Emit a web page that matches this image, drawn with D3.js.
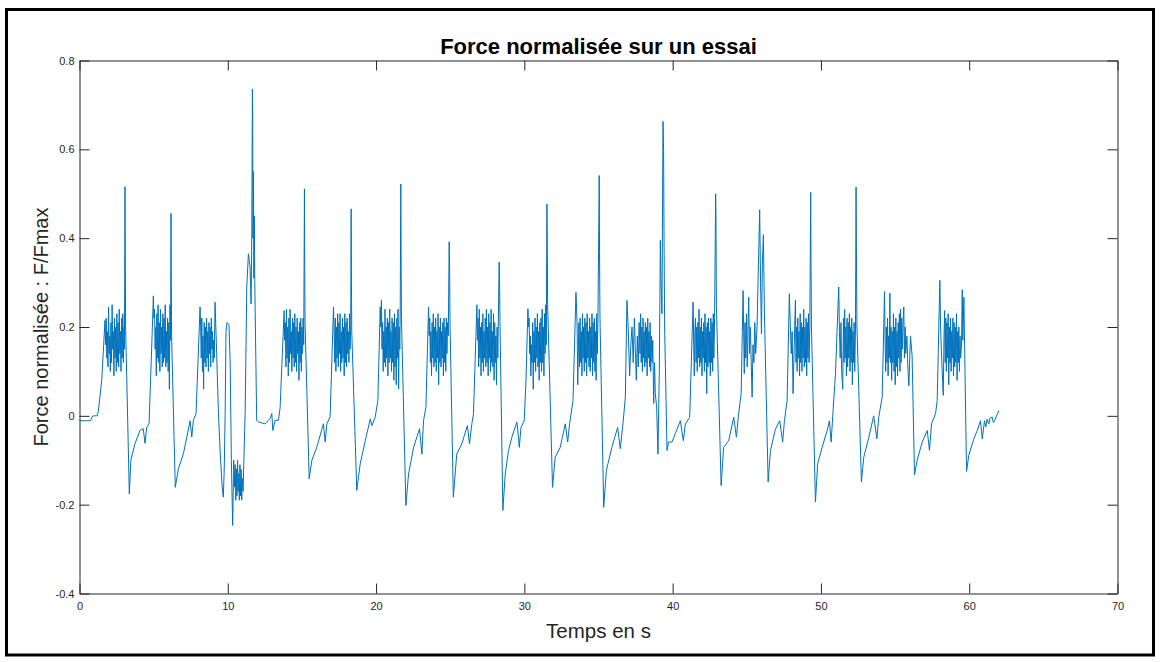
<!DOCTYPE html>
<html><head><meta charset="utf-8">
<script src="https://cdn.jsdelivr.net/npm/d3@7"></script>
<style>html,body{margin:0;padding:0;background:#fff;} svg{display:block;font-family:"Liberation Sans",Arial,Helvetica,sans-serif;}</style>
</head><body><svg id="chart" width="1160" height="662"></svg>
<script>
const title = "Force normalisée sur un essai";
const xLabel = "Temps en s";
const yLabel = "Force normalisée : F/Fmax";
const xDomain = [0, 70];
const yDomain = [-0.4, 0.8];
const xTicks = [0, 10, 20, 30, 40, 50, 60, 70];
const xTickLabels = ["0", "10", "20", "30", "40", "50", "60", "70"];
const yTicks = [-0.4, -0.2, 0, 0.2, 0.4, 0.6, 0.8];
const yTickLabels = ["-0.4", "-0.2", "0", "0.2", "0.4", "0.6", "0.8"];

// [time (s), F/Fmax]
const lead = [[0,-0.011],[0.75,-0.011],[0.85,-0.002],[0.95,0.0],[1.2,0.0],[1.27,0.01],[1.5,0.08],[1.72,0.215]];
const cycle01 = [[1.76,0.16],[1.80,0.22],[1.84,0.13],[1.88,0.19],[1.92,0.11],[1.96,0.245],[2.00,0.14],[2.04,0.18],[2.08,0.10],[2.12,0.21],[2.16,0.12],[2.20,0.25],[2.24,0.15],[2.28,0.19],[2.32,0.09],[2.36,0.22],[2.40,0.13],[2.44,0.20],[2.48,0.10],[2.52,0.23],[2.56,0.12],[2.60,0.21],[2.64,0.11],[2.68,0.24],[2.72,0.14],[2.76,0.19],[2.80,0.10],[2.84,0.22],[2.88,0.13],[2.92,0.23],[2.96,0.12],[3.00,0.20],[3.03,0.15],
 [3.07,0.516],[3.09,0.34],[3.11,0.20],[3.36,-0.176],
 [3.46,-0.10],[3.75,-0.062],[4.08,-0.033],[4.30,-0.029],[4.42,-0.062],[4.53,-0.026],[4.69,-0.018],[4.87,0.155],[4.98,0.27]];
const cycle02 = [[5.02,0.22],[5.06,0.24],[5.10,0.15],[5.14,0.20],[5.18,0.09],[5.22,0.23],[5.26,0.13],[5.30,0.25],[5.34,0.12],[5.38,0.21],[5.42,0.10],[5.46,0.24],[5.50,0.14],[5.54,0.20],[5.58,0.11],[5.62,0.23],[5.66,0.12],[5.70,0.22],[5.74,0.13],[5.78,0.25],[5.82,0.11],[5.86,0.19],[5.90,0.12],[5.94,0.22],[5.98,0.10],[6.02,0.21],[6.06,0.06],[6.10,0.25],[6.14,0.17],
 [6.17,0.456],[6.19,0.30],[6.21,0.18],[6.46,-0.161],
 [6.67,-0.119],[7.01,-0.085],[7.46,-0.011],[7.57,-0.048],[7.68,-0.01],[7.86,0.005],[8.13,0.245]];
const cycle03 = [[8.17,0.20],[8.21,0.13],[8.25,0.22],[8.29,0.10],[8.33,0.18],[8.37,0.06],[8.41,0.21],[8.45,0.12],[8.49,0.20],[8.53,0.11],[8.57,0.22],[8.61,0.13],[8.65,0.19],[8.69,0.10],[8.73,0.21],[8.77,0.14],[8.81,0.20],[8.85,0.11],[8.89,0.22],[8.93,0.15],[8.97,0.19],[9.01,0.12],[9.05,0.17],[9.09,0.13],[9.14,0.256],[9.25,0.14],[9.37,0.005],
 [9.50,-0.09],[9.62,-0.16],[9.70,-0.183],[9.76,-0.12],[9.82,0.0],[9.88,0.19],[9.95,0.21],[10.08,0.205],[10.16,0.12],[10.24,-0.10],[10.33,-0.247],[10.40,-0.10],
 [10.46,-0.16],[10.50,-0.11],[10.54,-0.19],[10.58,-0.12],[10.62,-0.18],[10.66,-0.10],[10.70,-0.17],[10.74,-0.13],[10.78,-0.19],[10.82,-0.11],[10.86,-0.18],[10.90,-0.12],[10.94,-0.19],[10.98,-0.14],[11.03,-0.17],
 [11.17,0.005],[11.28,0.29],[11.39,0.365],[11.50,0.335],[11.57,0.252],[11.62,0.41],[11.66,0.736],[11.68,0.68],[11.70,0.40],[11.73,0.55],[11.76,0.31],[11.79,0.45],[11.82,0.30],[11.95,-0.01],
 [12.07,-0.014],[12.52,-0.018],[12.85,-0.006],[12.97,0.005],[13.04,-0.033],[13.19,-0.01],[13.42,-0.01],[13.53,0.019],[13.80,0.237]];
const cycle04 = [[13.84,0.17],[13.88,0.21],[13.92,0.11],[13.96,0.24],[14.00,0.13],[14.04,0.20],[14.08,0.09],[14.12,0.22],[14.16,0.12],[14.20,0.24],[14.24,0.14],[14.28,0.19],[14.32,0.10],[14.36,0.22],[14.40,0.13],[14.44,0.21],[14.48,0.11],[14.52,0.23],[14.56,0.12],[14.60,0.20],[14.64,0.10],[14.68,0.22],[14.72,0.14],[14.76,0.19],[14.80,0.08],[14.84,0.21],[14.88,0.12],[14.92,0.22],[14.96,0.10],[15.00,0.20],[15.04,0.14],[15.08,0.22],[15.12,0.16],
 [15.17,0.511],[15.19,0.33],[15.21,0.21],[15.49,-0.142],
 [15.67,-0.10],[16.00,-0.071],[16.45,-0.018],[16.57,-0.059],[16.68,-0.018],[16.90,-0.003],[17.13,0.245]];
const cycle05 = [[17.17,0.19],[17.21,0.12],[17.25,0.22],[17.29,0.10],[17.33,0.20],[17.37,0.13],[17.41,0.23],[17.45,0.11],[17.49,0.21],[17.53,0.14],[17.57,0.23],[17.61,0.10],[17.65,0.19],[17.69,0.12],[17.73,0.22],[17.77,0.13],[17.81,0.20],[17.85,0.09],[17.89,0.23],[17.93,0.12],[17.97,0.21],[18.01,0.11],[18.05,0.22],[18.09,0.14],[18.13,0.19],[18.17,0.12],[18.21,0.23],[18.25,0.15],[18.29,0.20],
 [18.32,0.466],[18.34,0.30],[18.36,0.19],[18.70,-0.168],
 [18.93,-0.108],[19.27,-0.056],[19.61,-0.007],[19.72,-0.022],[19.94,-0.003],[20.12,0.034],[20.28,0.245]];
const cycle06 = [[20.32,0.20],[20.36,0.26],[20.40,0.15],[20.44,0.21],[20.48,0.10],[20.52,0.19],[20.56,0.12],[20.60,0.24],[20.64,0.11],[20.68,0.20],[20.72,0.13],[20.76,0.22],[20.80,0.09],[20.84,0.21],[20.88,0.12],[20.92,0.24],[20.96,0.13],[21.00,0.19],[21.04,0.10],[21.08,0.22],[21.12,0.12],[21.16,0.21],[21.20,0.08],[21.24,0.23],[21.28,0.11],[21.32,0.20],[21.36,0.07],[21.40,0.22],[21.44,0.13],[21.48,0.24],[21.52,0.06],[21.56,0.20],[21.60,0.15],[21.63,0.25],
 [21.67,0.522],[21.69,0.35],[21.71,0.22],[22.01,-0.202],
 [22.19,-0.131],[22.53,-0.071],[22.93,-0.029],[23.09,-0.086],[23.20,-0.011],[23.36,0.019],[23.54,0.245]];
const cycle07 = [[23.58,0.18],[23.62,0.22],[23.66,0.12],[23.70,0.19],[23.74,0.09],[23.78,0.21],[23.82,0.13],[23.86,0.23],[23.90,0.11],[23.94,0.20],[23.98,0.12],[24.02,0.22],[24.06,0.10],[24.10,0.19],[24.14,0.13],[24.18,0.23],[24.22,0.07],[24.26,0.20],[24.30,0.12],[24.34,0.22],[24.38,0.11],[24.42,0.19],[24.46,0.13],[24.50,0.21],[24.54,0.09],[24.58,0.22],[24.62,0.12],[24.66,0.20],[24.70,0.10],[24.74,0.22],[24.78,0.14],[24.82,0.21],[24.87,0.18],
 [24.93,0.392],[24.96,0.33],[24.99,0.20],[25.21,-0.183],
 [25.44,-0.086],[25.78,-0.063],[26.16,-0.022],[26.30,-0.063],[26.46,-0.018],[26.57,0.005],[26.80,0.25]];
const cycle08 = [[26.84,0.17],[26.88,0.22],[26.92,0.11],[26.96,0.24],[27.00,0.13],[27.04,0.20],[27.08,0.09],[27.12,0.21],[27.16,0.12],[27.20,0.23],[27.24,0.10],[27.28,0.19],[27.32,0.13],[27.36,0.22],[27.40,0.11],[27.44,0.24],[27.48,0.12],[27.52,0.20],[27.56,0.09],[27.60,0.23],[27.64,0.13],[27.68,0.21],[27.72,0.10],[27.76,0.24],[27.80,0.12],[27.84,0.19],[27.88,0.11],[27.92,0.23],[27.96,0.08],[28.00,0.21],[28.04,0.12],[28.08,0.18],[28.12,0.07],[28.16,0.20],[28.21,0.13],
 [28.30,0.346],[28.33,0.30],[28.36,0.20],[28.55,-0.213],
 [28.71,-0.131],[28.93,-0.078],[29.16,-0.048],[29.50,-0.014],[29.66,-0.071],[29.77,-0.026],[29.99,-0.011],[30.11,0.08],[30.24,0.241]];
const cycle09 = [[30.28,0.20],[30.32,0.22],[30.36,0.14],[30.40,0.18],[30.44,0.09],[30.48,0.16],[30.52,0.12],[30.56,0.21],[30.60,0.06],[30.64,0.19],[30.68,0.12],[30.72,0.22],[30.76,0.10],[30.80,0.20],[30.84,0.13],[30.88,0.23],[30.92,0.11],[30.96,0.19],[31.00,0.08],[31.04,0.21],[31.08,0.12],[31.12,0.22],[31.16,0.10],[31.20,0.24],[31.24,0.12],[31.28,0.20],[31.32,0.09],[31.36,0.23],[31.40,0.14],[31.44,0.25],[31.48,0.16],
 [31.52,0.477],[31.54,0.417],[31.57,0.25],[31.90,-0.161],
 [32.08,-0.093],[32.42,-0.071],[32.76,-0.018],[32.92,-0.059],[33.05,-0.018],[33.28,0.034],[33.48,0.278]];
const cycle10 = [[33.52,0.24],[33.56,0.20],[33.60,0.07],[33.64,0.15],[33.68,0.21],[33.72,0.11],[33.76,0.22],[33.80,0.12],[33.84,0.19],[33.88,0.09],[33.92,0.23],[33.96,0.13],[34.00,0.20],[34.04,0.10],[34.08,0.22],[34.12,0.12],[34.16,0.21],[34.20,0.09],[34.24,0.23],[34.28,0.13],[34.32,0.19],[34.36,0.11],[34.40,0.22],[34.44,0.10],[34.48,0.20],[34.52,0.13],[34.56,0.23],[34.60,0.09],[34.64,0.21],[34.68,0.12],[34.72,0.22],[34.76,0.10],[34.80,0.19],[34.84,0.08],[34.88,0.23],[34.92,0.14],[34.96,0.21],
 [35.05,0.541],[35.07,0.368],[35.10,0.22],[35.35,-0.206],
 [35.53,-0.123],[35.90,-0.071],[36.29,-0.026],[36.47,-0.074],[36.65,-0.018],[36.81,0.042],[36.92,0.26]];
const cycle11 = [[37.00,0.20],[37.10,0.09],[37.18,0.16],[37.26,0.20],[37.34,0.12],[37.42,0.22],[37.50,0.13],[37.55,0.08],[37.62,0.18],[37.68,0.11],[37.74,0.21],[37.80,0.14],[37.84,0.23],[37.88,0.12],[37.92,0.20],[37.96,0.10],[38.00,0.22],[38.04,0.13],[38.08,0.19],[38.12,0.11],[38.16,0.21],[38.20,0.12],[38.24,0.20],[38.28,0.09],[38.32,0.22],[38.36,0.13],[38.40,0.19],[38.44,0.11],[38.48,0.21],[38.52,0.10],[38.56,0.18],[38.61,0.12],[38.66,0.17],[38.72,0.028],[38.78,0.12],[38.83,0.05],[38.92,0.02],[39.01,-0.086],[39.10,0.10],[39.17,0.395],[39.22,0.30],[39.28,0.23],
 [39.35,0.663],[39.39,0.597],[39.42,0.40],[39.46,0.20],[39.62,-0.078],
 [39.73,-0.059],[39.96,-0.059],[40.18,-0.04],[40.52,-0.011],[40.72,-0.056],[40.86,-0.018],[41.15,-0.003],[41.38,0.256]];
const cycle12 = [[41.42,0.16],[41.46,0.09],[41.50,0.19],[41.54,0.22],[41.58,0.12],[41.62,0.20],[41.66,0.10],[41.70,0.21],[41.74,0.13],[41.78,0.24],[41.82,0.11],[41.86,0.20],[41.90,0.12],[41.94,0.22],[41.98,0.09],[42.02,0.19],[42.06,0.13],[42.10,0.21],[42.14,0.10],[42.18,0.23],[42.22,0.12],[42.26,0.20],[42.30,0.05],[42.34,0.21],[42.38,0.11],[42.42,0.22],[42.46,0.12],[42.50,0.19],[42.54,0.09],[42.58,0.22],[42.62,0.12],[42.66,0.21],[42.70,0.10],[42.74,0.23],[42.78,0.13],[42.83,0.22],
 [42.90,0.50],[42.92,0.447],[42.95,0.25],[43.27,-0.157],
 [43.44,-0.071],[43.78,-0.056],[44.12,-0.003],[44.30,-0.048],[44.45,0.005],[44.62,0.05],[44.75,0.282]];
const cycle13 = [[44.79,0.19],[44.83,0.095],[44.88,0.21],[44.93,0.13],[44.98,0.23],[45.03,0.11],[45.08,0.19],[45.13,0.267],[45.18,0.14],[45.24,0.20],[45.30,0.12],[45.36,0.042],[45.42,0.16],[45.48,0.12],[45.54,0.21],[45.60,0.14],[45.69,0.20],
 [45.87,0.464],[45.93,0.30],[45.99,0.185],[46.05,0.34],[46.12,0.408],[46.19,0.23],[46.44,-0.149],
 [46.60,-0.078],[46.93,-0.03],[47.22,-0.011],[47.42,-0.059],[47.54,-0.011],[47.72,0.034],[47.87,0.275]];
const cycle14 = [[47.94,0.20],[48.00,0.14],[48.06,0.19],[48.12,0.05],[48.20,0.16],[48.28,0.26],[48.32,0.12],[48.36,0.20],[48.40,0.10],[48.44,0.22],[48.48,0.13],[48.52,0.19],[48.56,0.09],[48.60,0.23],[48.64,0.12],[48.68,0.21],[48.72,0.10],[48.76,0.20],[48.80,0.13],[48.84,0.24],[48.88,0.11],[48.92,0.20],[48.96,0.12],[49.00,0.22],[49.04,0.09],[49.08,0.21],[49.12,0.13],[49.16,0.23],[49.20,0.12],[49.25,0.20],
 [49.31,0.503],[49.33,0.346],[49.36,0.20],[49.63,-0.194],
 [49.78,-0.108],[50.08,-0.071],[50.42,-0.033],[50.57,-0.011],[50.69,-0.059],[50.82,0.012],[50.98,0.095],[51.20,0.29]];
const cycle15 = [[51.25,0.19],[51.30,0.13],[51.35,0.21],[51.40,0.10],[51.47,0.06],[51.52,0.22],[51.56,0.12],[51.60,0.24],[51.64,0.13],[51.68,0.20],[51.72,0.09],[51.76,0.22],[51.80,0.11],[51.84,0.21],[51.88,0.13],[51.92,0.23],[51.96,0.10],[52.00,0.20],[52.04,0.12],[52.08,0.22],[52.12,0.07],[52.16,0.19],[52.20,0.12],[52.24,0.21],[52.28,0.10],[52.33,0.20],
 [52.37,0.515],[52.40,0.335],[52.43,0.20],[52.73,-0.149],
 [52.89,-0.093],[53.23,-0.048],[53.56,0.0],[53.77,-0.052],[53.90,-0.003],[54.13,0.042],[54.29,0.28]];
const cycle16 = [[54.33,0.16],[54.37,0.10],[54.41,0.20],[54.45,0.12],[54.49,0.22],[54.53,0.09],[54.57,0.18],[54.61,0.13],[54.65,0.276],[54.69,0.12],[54.73,0.20],[54.77,0.08],[54.81,0.19],[54.85,0.12],[54.89,0.23],[54.93,0.10],[54.97,0.20],[55.01,0.07],[55.05,0.22],[55.09,0.11],[55.13,0.19],[55.17,0.09],[55.21,0.21],[55.25,0.13],[55.29,0.23],[55.33,0.10],[55.37,0.24],[55.41,0.12],[55.45,0.22],[55.49,0.15],[55.54,0.21],[55.59,0.245],[55.63,0.13],[55.68,0.20],[55.72,0.14],[55.80,0.18],[55.86,0.11],[55.93,0.068],[56.04,0.18],[56.15,0.135],[56.31,-0.133],
 [56.49,-0.10],[56.83,-0.059],[57.17,-0.033],[57.32,-0.078],[57.46,-0.018],[57.73,0.005],[57.84,0.034],[58.02,0.305]];
const cycle17 = [[58.07,0.20],[58.12,0.15],[58.18,0.10],[58.25,0.046],[58.30,0.18],[58.34,0.237],[58.38,0.12],[58.42,0.22],[58.46,0.10],[58.50,0.21],[58.54,0.13],[58.58,0.23],[58.62,0.07],[58.66,0.20],[58.70,0.12],[58.74,0.22],[58.78,0.10],[58.82,0.19],[58.86,0.13],[58.90,0.22],[58.94,0.09],[58.98,0.21],[59.02,0.11],[59.06,0.20],[59.10,0.12],[59.14,0.23],[59.18,0.08],[59.22,0.19],[59.26,0.12],[59.30,0.20],[59.34,0.10],[59.38,0.18],[59.42,0.13],[59.48,0.16],[59.53,0.284],[59.57,0.17],[59.64,0.267],[59.82,-0.125],
 [59.97,-0.089],[60.31,-0.052],[60.54,-0.033],[60.76,-0.011],[60.88,-0.052],[61.03,-0.011],[61.12,-0.025],[61.20,-0.008],[61.32,-0.018],[61.40,-0.005],[61.55,-0.003],[61.63,-0.015],[61.71,-0.011],[61.85,0.0],[62.0,0.012]];

const signal = [].concat(lead, cycle01, cycle02, cycle03, cycle04, cycle05, cycle06, cycle07, cycle08, cycle09,
  cycle10, cycle11, cycle12, cycle13, cycle14, cycle15, cycle16, cycle17);

const svg = d3.select("#chart");
const W = 1160, H = 662;
const plot = {left: 79.5, right: 1117.5, top: 60.5, bottom: 593.5};
const axisColor = "#262626";
const lineColor = "#0072BD";

svg.append("rect").attr("width", W).attr("height", H).attr("fill", "#fff");
svg.append("rect").attr("x", 6.5).attr("y", 9.5).attr("width", 1147).attr("height", 645.5)
  .attr("fill", "none").attr("stroke", "#000").attr("stroke-width", 3);

const x = d3.scaleLinear().domain(xDomain).range([plot.left, plot.right]);
const y = d3.scaleLinear().domain(yDomain).range([plot.bottom, plot.top]);

const line = d3.line().x(d => x(d[0])).y(d => y(d[1]));
svg.append("path").datum(signal).attr("d", line)
  .attr("fill", "none").attr("stroke", lineColor).attr("stroke-width", 1).attr("stroke-linejoin", "round");

function styleAxis(g, showText) {
  g.attr("font-family", null).attr("font-size", null);
  g.selectAll("path.domain").attr("stroke", axisColor).attr("stroke-width", 1);
  g.selectAll(".tick line").attr("stroke", axisColor).attr("stroke-width", 1);
  g.selectAll("text").attr("fill", "#262626").style("font-size", "11px");
  if (!showText) g.selectAll("text").remove();
}

svg.append("g").attr("transform", `translate(0,${plot.bottom})`)
  .call(d3.axisBottom(x).tickValues(xTicks).tickFormat((d, i) => xTickLabels[i]).tickSizeInner(-10).tickSizeOuter(0).tickPadding(9))
  .call(g => styleAxis(g, true));
svg.append("g").attr("transform", `translate(0,${plot.top})`)
  .call(d3.axisTop(x).tickValues(xTicks).tickFormat("").tickSizeInner(-10).tickSizeOuter(0))
  .call(g => styleAxis(g, false));
svg.append("g").attr("transform", `translate(${plot.left},0)`)
  .call(d3.axisLeft(y).tickValues(yTicks).tickFormat((d, i) => yTickLabels[i]).tickSizeInner(-10).tickSizeOuter(0).tickPadding(5))
  .call(g => styleAxis(g, true));
svg.append("g").attr("transform", `translate(${plot.right},0)`)
  .call(d3.axisRight(y).tickValues(yTicks).tickFormat("").tickSizeInner(-10).tickSizeOuter(0))
  .call(g => styleAxis(g, false));

svg.append("text").attr("x", (plot.left + plot.right) / 2).attr("y", 54)
  .attr("text-anchor", "middle").attr("font-weight", "bold").attr("font-size", 22).attr("fill", "#000").text(title);
svg.append("text").attr("x", (plot.left + plot.right) / 2).attr("y", 638)
  .attr("text-anchor", "middle").attr("font-size", 20.5).attr("fill", "#262626").text(xLabel);
svg.append("text").attr("transform", `translate(48,${(plot.top + plot.bottom) / 2}) rotate(-90)`)
  .attr("text-anchor", "middle").attr("font-size", 20).attr("fill", "#262626").text(yLabel);
</script>
</body></html>
